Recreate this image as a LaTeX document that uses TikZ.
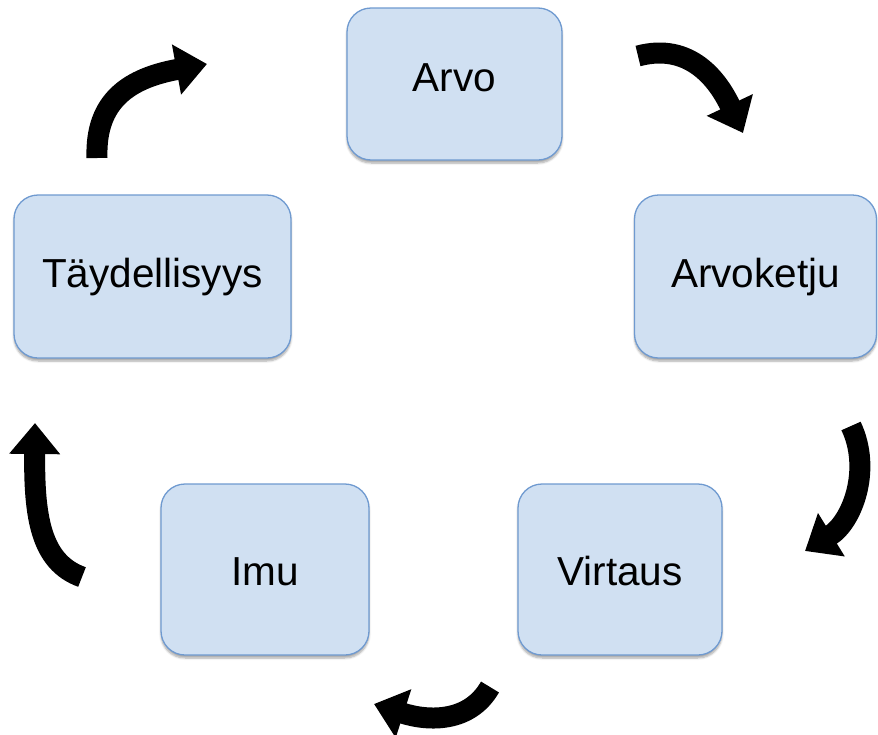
\documentclass[tikz,border=0pt]{standalone}
\usepackage{fontspec}
\setmainfont{Liberation Sans}
\usetikzlibrary{arrows.meta,shadows.blur}
\definecolor{boxfill}{HTML}{D0E0F2}
\definecolor{boxline}{HTML}{6F9AD0}
\tikzset{
  box/.style={draw=boxline, line width=1.3pt, fill=boxfill, rounded corners=24pt,
    inner sep=0pt,
    blur shadow={shadow xshift=0pt, shadow yshift=-3pt, shadow blur steps=6, shadow opacity=35}},
  lbl/.style={font=\fontsize{40.5}{48}\selectfont, inner sep=0pt},
  bigarrow/.style={line width=21pt, -{Triangle[length=31pt,width=49pt]}, black}
}
\begin{document}
\begin{tikzpicture}[x=1pt,y=-1pt]
\useasboundingbox (0,0) rectangle (878,734);
\node[box, minimum width=215pt, minimum height=152pt] (arvo) at (454.5,84) {};
\node[box, minimum width=242pt, minimum height=163pt] (ketju) at (755.5,276.5) {};
\node[box, minimum width=277pt, minimum height=163pt] (tayd) at (152.5,276.5) {};
\node[box, minimum width=208pt, minimum height=171pt] (imu) at (265,569.5) {};
\node[box, minimum width=204pt, minimum height=171pt] (virt) at (620,569.5) {};
\node[lbl] (arvot) at ([yshift=6pt]arvo.center) {Arvo};
\node[lbl] (ketjut) at ([yshift=-1pt]ketju.center) {Arvoketju};
\node[lbl] (taydt) at ([yshift=-1pt]tayd.center) {Täydellisyys};
\node[lbl] (imut) at ([yshift=-2pt]imu.center) {Imu};
\node[lbl] (virtt) at ([yshift=-2pt]virt.center) {Virtaus};

\coordinate (a1s) at (638,56);  \coordinate (a1e) at (743,133);
\coordinate (a2s) at (97,158);  \coordinate (a2e) at (207,64);
\coordinate (a3s) at (851,426); \coordinate (a3e) at (805,551);
\coordinate (a4s) at (82,577);  \coordinate (a4e) at (35,423);
\coordinate (a5s) at (490,687); \coordinate (a5e) at (374,704);

\draw[bigarrow] (a1s) .. controls (690,42) and (718,80) .. (a1e);
\draw[bigarrow] (a2s) .. controls (95,100) and (130,78) .. (a2e);
\draw[bigarrow] (a3s) .. controls (872,470) and (852,522) .. (a3e);
\draw[bigarrow] (a4s) .. controls (40,562) and (34,515) .. (a4e);
\draw[bigarrow] (a5s) .. controls (470,722) and (430,722) .. (a5e);
\end{tikzpicture}
\end{document}
